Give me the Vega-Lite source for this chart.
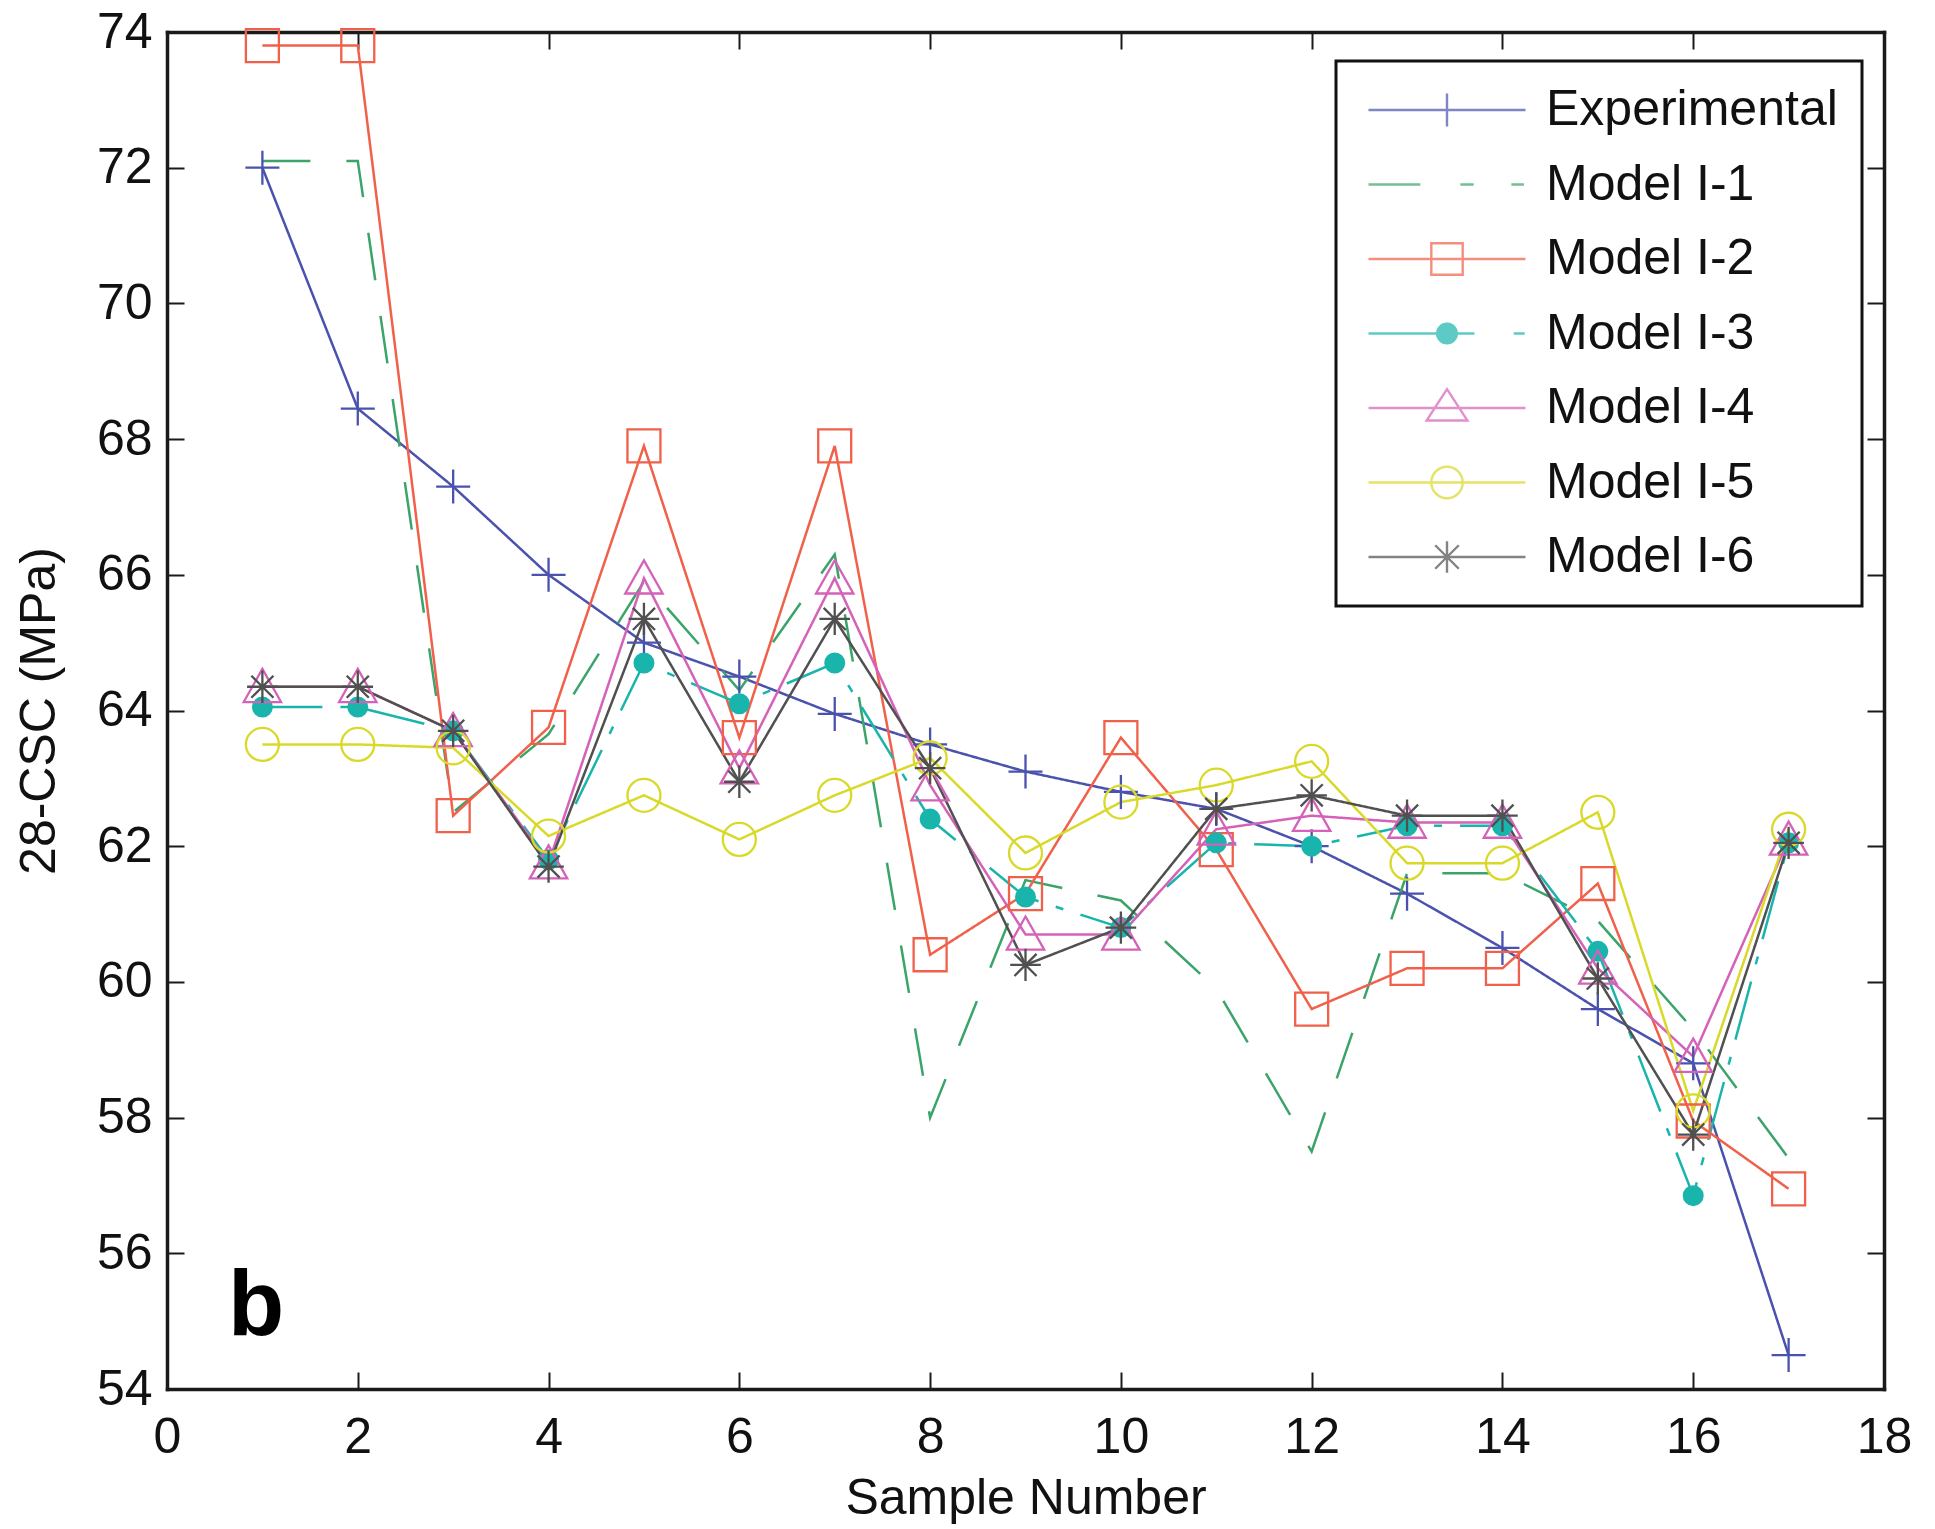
{
  "$schema": "https://vega.github.io/schema/vega-lite/v6.json",
  "autosize": {"type": "none"},
  "padding": {"left": 167, "top": 32, "right": 51, "bottom": 140},
  "width": 1717,
  "height": 1357,
  "background": "white",
  "data": {
    "values": [
      {"sample": 1, "Experimental": 72.0, "Model I-1": 72.1, "Model I-2": 73.8, "Model I-3": 64.05, "Model I-4": 64.35, "Model I-5": 63.5, "Model I-6": 64.35},
      {"sample": 2, "Experimental": 68.45, "Model I-1": 72.1, "Model I-2": 73.8, "Model I-3": 64.05, "Model I-4": 64.35, "Model I-5": 63.5, "Model I-6": 64.35},
      {"sample": 3, "Experimental": 67.3, "Model I-1": 62.5, "Model I-2": 62.45, "Model I-3": 63.7, "Model I-4": 63.7, "Model I-5": 63.45, "Model I-6": 63.7},
      {"sample": 4, "Experimental": 66.0, "Model I-1": 63.65, "Model I-2": 63.75, "Model I-3": 61.8, "Model I-4": 61.75, "Model I-5": 62.15, "Model I-6": 61.7},
      {"sample": 5, "Experimental": 65.0, "Model I-1": 65.9, "Model I-2": 67.9, "Model I-3": 64.7, "Model I-4": 65.95, "Model I-5": 62.75, "Model I-6": 65.35},
      {"sample": 6, "Experimental": 64.5, "Model I-1": 64.3, "Model I-2": 63.6, "Model I-3": 64.1, "Model I-4": 63.15, "Model I-5": 62.1, "Model I-6": 62.95},
      {"sample": 7, "Experimental": 63.95, "Model I-1": 66.3, "Model I-2": 67.9, "Model I-3": 64.7, "Model I-4": 65.95, "Model I-5": 62.75, "Model I-6": 65.35},
      {"sample": 8, "Experimental": 63.5, "Model I-1": 58.0, "Model I-2": 60.4, "Model I-3": 62.4, "Model I-4": 62.9, "Model I-5": 63.3, "Model I-6": 63.15},
      {"sample": 9, "Experimental": 63.1, "Model I-1": 61.5, "Model I-2": 61.3, "Model I-3": 61.25, "Model I-4": 60.7, "Model I-5": 61.9, "Model I-6": 60.25},
      {"sample": 10, "Experimental": 62.8, "Model I-1": 61.2, "Model I-2": 63.6, "Model I-3": 60.8, "Model I-4": 60.7, "Model I-5": 62.65, "Model I-6": 60.8},
      {"sample": 11, "Experimental": 62.55, "Model I-1": 59.9, "Model I-2": 61.95, "Model I-3": 62.05, "Model I-4": 62.25, "Model I-5": 62.9, "Model I-6": 62.55},
      {"sample": 12, "Experimental": 62.0, "Model I-1": 57.5, "Model I-2": 59.6, "Model I-3": 62.0, "Model I-4": 62.45, "Model I-5": 63.25, "Model I-6": 62.75},
      {"sample": 13, "Experimental": 61.3, "Model I-1": 61.6, "Model I-2": 60.2, "Model I-3": 62.3, "Model I-4": 62.35, "Model I-5": 61.75, "Model I-6": 62.45},
      {"sample": 14, "Experimental": 60.5, "Model I-1": 61.6, "Model I-2": 60.2, "Model I-3": 62.3, "Model I-4": 62.35, "Model I-5": 61.75, "Model I-6": 62.45},
      {"sample": 15, "Experimental": 59.6, "Model I-1": 60.9, "Model I-2": 61.45, "Model I-3": 60.45, "Model I-4": 60.2, "Model I-5": 62.5, "Model I-6": 60.05},
      {"sample": 16, "Experimental": 58.8, "Model I-1": 59.3, "Model I-2": 57.95, "Model I-3": 56.85, "Model I-4": 58.9, "Model I-5": 58.1, "Model I-6": 57.75},
      {"sample": 17, "Experimental": 54.5, "Model I-1": 57.4, "Model I-2": 56.95, "Model I-3": 62.05, "Model I-4": 62.1, "Model I-5": 62.25, "Model I-6": 62.05}
    ]
  },
  "transform": [
    {"fold": ["Experimental", "Model I-1", "Model I-2", "Model I-3", "Model I-4", "Model I-5", "Model I-6"], "as": ["series", "value"]}
  ],
  "layer": [
    {
      "mark": {"type": "line", "strokeWidth": 2.5, "clip": false},
      "encoding": {
        "x": {
          "field": "sample", "type": "quantitative",
          "scale": {"domain": [0, 18], "nice": false, "zero": false},
          "axis": {"orient": "top", "labels": false, "title": null, "values": [0, 2, 4, 6, 8, 10, 12, 14, 16, 18]}
        },
        "y": {
          "field": "value", "type": "quantitative",
          "scale": {"domain": [54, 74], "nice": false, "zero": false},
          "axis": {"orient": "right", "labels": false, "title": null, "values": [54, 56, 58, 60, 62, 64, 66, 68, 70, 72, 74]}
        },
        "color": {
          "field": "series", "type": "nominal", "legend": null,
          "scale": {
            "domain": ["Experimental", "Model I-1", "Model I-2", "Model I-3", "Model I-4", "Model I-5", "Model I-6"],
            "range": ["#4a52ad", "#3aa46a", "#f0604a", "#19b5ad", "#d462b8", "#d9d92a", "#505050"]
          }
        },
        "strokeDash": {
          "field": "series", "type": "nominal", "legend": null,
          "scale": {
            "domain": ["Experimental", "Model I-1", "Model I-2", "Model I-3", "Model I-4", "Model I-5", "Model I-6"],
            "range": [[1, 0], [48, 36], [1, 0], [60, 18, 8, 18], [1, 0], [1, 0], [1, 0]]
          }
        },
        "order": {"field": "sample", "type": "quantitative"}
      }
    },
    {
      "transform": [{"filter": "datum.series !== 'Model I-1'"}],
      "mark": {"type": "point", "filled": false, "size": 1156, "strokeWidth": 2.3, "opacity": 1, "clip": false},
      "encoding": {
        "x": {
          "field": "sample", "type": "quantitative",
          "scale": {"domain": [0, 18], "nice": false, "zero": false},
          "axis": {"orient": "bottom", "title": "Sample Number", "values": [0, 2, 4, 6, 8, 10, 12, 14, 16, 18]}
        },
        "y": {
          "field": "value", "type": "quantitative",
          "scale": {"domain": [54, 74], "nice": false, "zero": false},
          "axis": {"orient": "left", "title": "28-CSC (MPa)", "values": [54, 56, 58, 60, 62, 64, 66, 68, 70, 72, 74]}
        },
        "color": {
          "field": "series", "type": "nominal", "legend": null,
          "scale": {
            "domain": ["Experimental", "Model I-1", "Model I-2", "Model I-3", "Model I-4", "Model I-5", "Model I-6"],
            "range": ["#4a52ad", "#3aa46a", "#f0604a", "#19b5ad", "#d462b8", "#d9d92a", "#505050"]
          }
        },
        "shape": {
          "field": "series", "type": "nominal", "legend": null,
          "scale": {
            "domain": ["Experimental", "Model I-1", "Model I-2", "Model I-3", "Model I-4", "Model I-5", "Model I-6"],
            "range": [
              "M-1,0L1,0M0,-1L0,1",
              "M0,0L0,0",
              "M-0.97,-0.97L0.97,-0.97L0.97,0.97L-0.97,0.97Z",
              "M-0.55,0A0.55,0.55,0,1,1,0.55,0A0.55,0.55,0,1,1,-0.55,0ZM-0.43,0A0.43,0.43,0,1,1,0.43,0A0.43,0.43,0,1,1,-0.43,0ZM-0.31,0A0.31,0.31,0,1,1,0.31,0A0.31,0.31,0,1,1,-0.31,0ZM-0.19,0A0.19,0.19,0,1,1,0.19,0A0.19,0.19,0,1,1,-0.19,0ZM-0.07,0A0.07,0.07,0,1,1,0.07,0A0.07,0.07,0,1,1,-0.07,0Z",
              "M0,-1.05L1.1,0.9L-1.1,0.9Z",
              "M-0.97,0A0.97,0.97,0,1,1,0.97,0A0.97,0.97,0,1,1,-0.97,0Z",
              "M-0.9,0L0.9,0M0,-0.95L0,0.95M-0.65,-0.65L0.65,0.65M-0.65,0.65L0.65,-0.65"
            ]
          }
        }
      }
    },
    {
      "transform": [{"filter": "datum.value < 0"}],
      "mark": {"type": "point", "filled": false, "size": 24649, "strokeWidth": 2.4},
      "encoding": {
        "x": {"field": "sample", "type": "quantitative", "scale": {"domain": [0, 18], "nice": false, "zero": false}, "axis": null},
        "y": {"field": "value", "type": "quantitative", "scale": {"domain": [54, 74], "nice": false, "zero": false}, "axis": null},
        "color": {
          "field": "series", "type": "nominal", "legend": {"title": null},
          "scale": {
            "domain": ["Experimental", "Model I-1", "Model I-2", "Model I-3", "Model I-4", "Model I-5", "Model I-6"],
            "range": ["#4a52ad", "#3aa46a", "#f0604a", "#19b5ad", "#d462b8", "#d9d92a", "#505050"]
          }
        },
        "shape": {
          "field": "series", "type": "nominal", "legend": {"title": null},
          "scale": {
            "domain": ["Experimental", "Model I-1", "Model I-2", "Model I-3", "Model I-4", "Model I-5", "Model I-6"],
            "range": [
              "M-1,0L1,0M0,-0.21L0,0.21",
              "M-1,0L-0.34,0M0.17,0L0.34,0M0.82,0L0.98,0",
              "M-1,0L1,0M-0.2,-0.2L0.2,-0.2L0.2,0.2L-0.2,0.2Z",
              "M-1,0L0.35,0M0.85,0L0.99,0M-0.125,0A0.125,0.125,0,1,1,0.125,0A0.125,0.125,0,1,1,-0.125,0ZM-0.1,0A0.1,0.1,0,1,1,0.1,0A0.1,0.1,0,1,1,-0.1,0ZM-0.075,0A0.075,0.075,0,1,1,0.075,0A0.075,0.075,0,1,1,-0.075,0ZM-0.05,0A0.05,0.05,0,1,1,0.05,0A0.05,0.05,0,1,1,-0.05,0ZM-0.025,0A0.025,0.025,0,1,1,0.025,0A0.025,0.025,0,1,1,-0.025,0Z",
              "M-1,0L1,0M0,-0.24L0.26,0.16L-0.26,0.16Z",
              "M-1,0L1,0M-0.2,0A0.2,0.2,0,1,1,0.2,0A0.2,0.2,0,1,1,-0.2,0Z",
              "M-1,0L1,0M0,-0.2L0,0.2M-0.15,-0.15L0.15,0.15M-0.15,0.15L0.15,-0.15"
            ]
          }
        }
      }
    },
    {
      "data": {"values": [{}]},
      "mark": {"type": "text", "text": "b", "font": "Liberation Sans", "fontWeight": "bold", "fontSize": 92, "align": "left", "baseline": "alphabetic", "color": "#000000"},
      "encoding": {
        "x": {"datum": 0.64, "type": "quantitative", "scale": {"domain": [0, 18], "nice": false, "zero": false}, "axis": null},
        "y": {"datum": 54.8, "type": "quantitative", "scale": {"domain": [54, 74], "nice": false, "zero": false}, "axis": null}
      }
    }
  ],
  "resolve": {
    "scale": {"shape": "independent", "color": "independent", "strokeDash": "independent"},
    "axis": {"x": "independent", "y": "independent"}
  },
  "config": {
    "view": {"stroke": null},
    "axis": {
      "grid": false,
      "domainColor": "#1a1a1a",
      "domainWidth": 3.5,
      "domainCap": "square",
      "tickColor": "#1a1a1a",
      "tickWidth": 2,
      "tickSize": -17,
      "labelFont": "Liberation Sans",
      "labelFontSize": 50,
      "labelColor": "#111111",
      "titleFont": "Liberation Sans",
      "titleFontSize": 50,
      "titleFontWeight": "normal",
      "titleColor": "#111111",
      "labelFlush": false,
      "labelOverlap": false
    },
    "axisBottom": {"labelPadding": 40, "titlePadding": 11},
    "axisLeft": {"labelPadding": 32, "titlePadding": 32},
    "legend": {
      "orient": "none",
      "legendX": 1169,
      "legendY": 29,
      "direction": "vertical",
      "padding": 24,
      "rowPadding": 24.5,
      "clipHeight": 50,
      "symbolOffset": 7,
      "labelOffset": 19,
      "symbolSize": 24649,
      "symbolStrokeWidth": 2.4,
      "labelFont": "Liberation Sans",
      "labelFontSize": 50,
      "labelColor": "#111111",
      "labelLimit": 500,
      "strokeColor": "#111111",
      "strokeWidth": 3,
      "fillColor": "white",
      "cornerRadius": 0
    }
  }
}
